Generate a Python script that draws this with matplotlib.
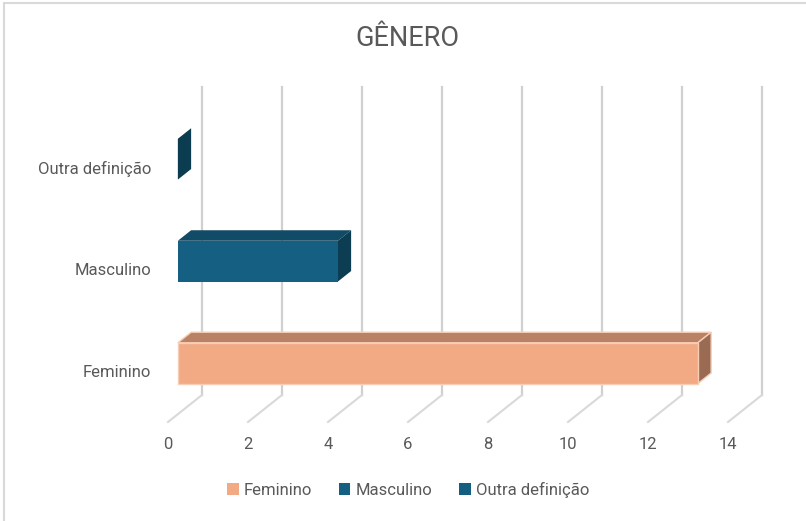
import matplotlib
matplotlib.use("Agg")
import matplotlib.pyplot as plt
from matplotlib.patches import Polygon, Patch
from matplotlib.lines import Line2D

plt.rcParams['font.family'] = ['Roboto', 'DejaVu Sans']

categories = ['Feminino', 'Masculino', 'Outra definição']
values = [13, 4, 0]
front_colors = ['#F2AA84', '#156082', '#145E80']
top_colors = ['#BA8264', '#124B66', '#0C3A50']
side_colors = ['#9A6B52', '#0D3D52', '#0C3C50']
edge_colors = ['#F7CDB6', '#156082', '#145E80']
xticks = [0, 2, 4, 6, 8, 10, 12, 14]
title = 'GÊNERO'

W, H = 806, 521
fig = plt.figure(figsize=(W / 100, H / 100), dpi=100)
fig.patch.set_facecolor('white')

# front plane: x=0 -> px 168, x=14 -> px 728 ; y=0 -> px 422 (from top), y=3 -> px 116
ax = fig.add_axes([168 / W, (H - 422) / H, 560 / W, 306 / H])
ax.set_xlim(0, 14)
ax.set_ylim(0, 3)
for s in ax.spines.values():
    s.set_visible(False)
ax.set_facecolor('none')

DX = 34 / 40.0    # depth offset in x units
DY = 27 / 102.0   # depth offset in y units

def P(x, y, d):
    return (x + DX * d, y + DY * d)

grid_col = '#d0d0d0'
for v in xticks:
    ax.add_line(Line2D(*zip(P(v, 0, 1), P(v, 3.02, 1)), color=grid_col, lw=1.6,
                       clip_on=False, zorder=1))
    ax.add_line(Line2D(*zip(P(v, 0, 0), P(v, 0, 1)), color='#d9d9d9', lw=1.5,
                       clip_on=False, zorder=1))

d0, d1 = 0.29, 0.68
bh = 0.4
for i, v in enumerate(values):
    yc = i + 0.5
    y0, y1 = yc - bh / 2, yc + bh / 2
    front = [P(0, y0, d0), P(v, y0, d0), P(v, y1, d0), P(0, y1, d0)]
    top = [P(0, y1, d0), P(v, y1, d0), P(v, y1, d1), P(0, y1, d1)]
    side = [P(v, y0, d0), P(v, y1, d0), P(v, y1, d1), P(v, y0, d1)]
    lw = 1.0 if i == 0 else 0.0
    ax.add_patch(Polygon(top, closed=True, facecolor=top_colors[i], edgecolor=edge_colors[i],
                         lw=lw, clip_on=False, zorder=3))
    ax.add_patch(Polygon(side, closed=True, facecolor=side_colors[i], edgecolor=edge_colors[i],
                         lw=lw, clip_on=False, zorder=3))
    if v > 0:
        ax.add_patch(Polygon(front, closed=True, facecolor=front_colors[i], edgecolor=edge_colors[i],
                             lw=lw, clip_on=False, zorder=4))

tc = '#595959'
ax.set_xticks(xticks)
ax.set_xticklabels([str(t) for t in xticks])
ax.set_yticks([i + 0.5 for i in range(len(categories))])
ax.set_yticklabels(categories)
ax.tick_params(axis='x', length=0, pad=11, labelsize=12, labelcolor=tc)
ax.tick_params(axis='y', length=0, pad=12, labelsize=12, labelcolor=tc)

fig.text(407 / W, 1 - 38 / H, title, ha='center', va='center', fontsize=19.5, color=tc)

handles = [Patch(facecolor=front_colors[i], edgecolor='none') for i in range(len(categories))]
fig.legend(handles, categories, loc='center', bbox_to_anchor=(408 / W, 31 / H), ncol=3,
           frameon=False, fontsize=12, labelcolor=tc, handlelength=0.7, handleheight=0.7,
           handletextpad=0.3, columnspacing=1.6)

# chart border (top and left visible)
fig.add_artist(Line2D([4 / W, 4 / W], [0, 1 - 3 / H], transform=fig.transFigure,
                      color='#d9d9d9', lw=1.5))
fig.add_artist(Line2D([4 / W, 1], [1 - 3 / H, 1 - 3 / H], transform=fig.transFigure,
                      color='#d9d9d9', lw=1.5))

fig.savefig('out.png', dpi=100)
